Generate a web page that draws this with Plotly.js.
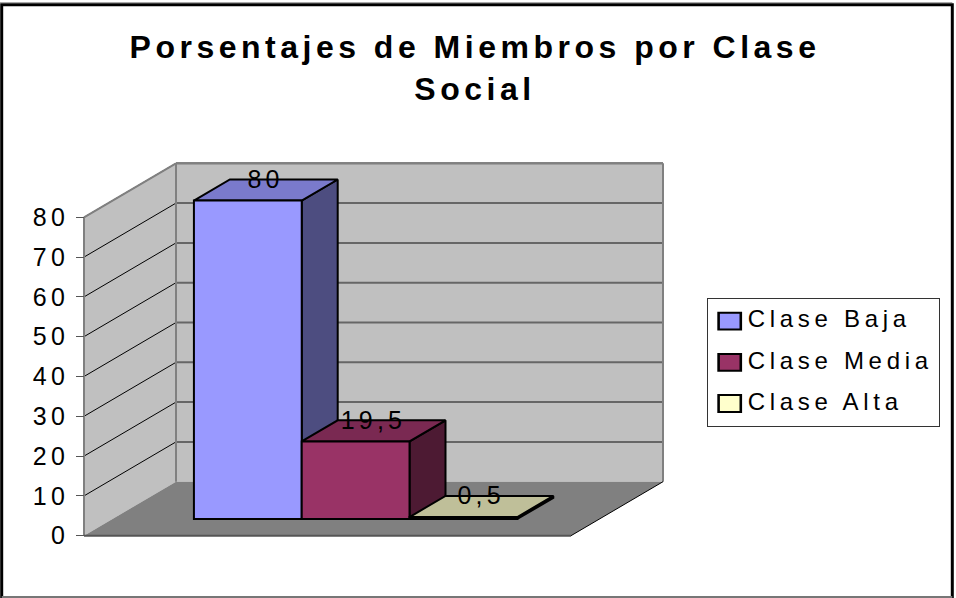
<!DOCTYPE html>
<html><head><meta charset="utf-8">
<script src="https://cdn.plot.ly/plotly-3.0.1.min.js"></script>
<style>
html,body{margin:0;padding:0;background:#fff}
#c{width:956px;height:598px}
.ytick text{letter-spacing:4.2px}
.legendtext{letter-spacing:4.7px;transform:translateY(-3px)}
.gtitle{letter-spacing:4.5px}
.scatterlayer text{letter-spacing:4.2px}
.legendpoints path{transform:translate(22px,0) scale(1.85,1.4) !important;stroke-width:1.4px !important}
</style></head><body><div id="c"></div>
<script>
// data
const categories = ['Clase Baja','Clase Media','Clase Alta'];
const values = [80, 19.5, 0.5];
const frontColors = ['#9999FF','#993366','#FFFFCC'];
const topColors = ['#7A7ACC','#7A2952','#BFBF99'];
const sideColors = ['#4D4D80','#4D1A33','#808066'];
const tickValues = [0,10,20,30,40,50,60,70,80];

// oblique projection of the chart's box
const W=956,H=598,pxU=107.8,pxV=3.98,x0=84,y0=535.7;
const DX=92/pxU, DY=54/pxV, FW=487/pxU, TOP=80;
const D0=0.309, D1=0.70, U0=0.756;
const P=(u,v,d)=>[u+d*DX, v+d*DY];
function poly(pts,fill,lineColor,lineWidth){
  const p=pts.map(a=>P(a[0],a[1],a[2]));
  p.push(p[0]);
  return {type:'scatter',mode:lineWidth?'lines':'none',x:p.map(a=>a[0]),y:p.map(a=>a[1]),fill:'toself',fillcolor:fill,
    line:{color:lineColor||fill,width:lineWidth||0},showlegend:false,hoverinfo:'skip'};
}
function seg(list,color,width){
  const x=[],y=[];
  list.forEach(s=>{const a=P(...s[0]),b=P(...s[1]);x.push(a[0],b[0],null);y.push(a[1],b[1],null);});
  return {type:'scatter',mode:'lines',x,y,line:{color,width},showlegend:false,hoverinfo:'skip'};
}
const traces=[];
traces.push(poly([[0,0,0],[0,TOP,0],[0,TOP,1],[0,0,1]],'#C0C0C0'));
traces.push(poly([[0,0,1],[0,TOP,1],[FW,TOP,1],[FW,0,1]],'#C0C0C0'));
const grid=tickValues.slice(1);
traces.push(seg(grid.map(v=>[[0,v,1],[FW,v,1]]),'#666666',2));
traces.push(seg(grid.slice(0).map(v=>[[0,v,0],[0,v,1]]),'#000000',1));
traces.push(seg([[[0,0,0],[0,TOP,0]],[[0,TOP,0],[0,TOP,1]],[[0,TOP,1],[FW,TOP,1]],[[0,0,1],[0,TOP,1]],[[FW,0,1],[FW,TOP,1]]],'#808080',2));
traces.push(poly([[0,0,0],[FW,0,0],[FW,0,1],[0,0,1]],'#808080'));
traces.push(seg([[[0,0,0],[FW,0,0]]],'#555555',2));
traces.push(seg([[[FW,0,0],[FW,0,1]]],'#000000',1));
values.forEach((v,i)=>{
  const a=U0+i,b=U0+i+1;
  traces.push(poly([[b,0,D0],[b,v,D0],[b,v,D1],[b,0,D1]],sideColors[i],'#000',2));
  traces.push(poly([[a,v,D0],[b,v,D0],[b,v,D1],[a,v,D1]],topColors[i],'#000',2));
});
// front faces: real bars on an overlaid pair of axes
values.forEach((v,i)=>{
  traces.push({type:'bar',xaxis:'x2',yaxis:'y2',name:categories[i],legendgroup:categories[i],
    x:[U0+i+0.5+D0*DX],y:[v],base:[D0*DY],width:[1],
    marker:{color:frontColors[i],line:{color:'#000',width:2}},hoverinfo:'skip'});
});
// data labels
traces.push({type:'scatter',mode:'text',xaxis:'x2',yaxis:'y2',showlegend:false,hoverinfo:'skip',
  x:values.map((v,i)=>U0+i+0.5+D0*DX+0.165),
  y:values.map(v=>v+D1*DY-0.5),
  text:values.map(v=>String(v).replace('.',',')),
  textposition:'middle center',
  textfont:{family:'Liberation Sans',size:25,color:'#000'}});

const xr=[-x0/pxU,(W-x0)/pxU], yr=[(y0-H)/pxV,y0/pxV];
const layout={
  width:W,height:H,margin:{l:0,r:0,t:0,b:0,pad:0},paper_bgcolor:'#fff',plot_bgcolor:'rgba(0,0,0,0)',
  font:{family:'Liberation Sans',color:'#000'},
  showlegend:true,barmode:'overlay',
  title:{text:'Porsentajes de Miembros por Clase<br>Social',x:475/W,xanchor:'center',y:1-58/H,yanchor:'middle',
    font:{family:'Liberation Sans',size:32,color:'#000',weight:700}},
  xaxis:{range:xr,visible:false,fixedrange:true},
  yaxis:{range:yr,anchor:'free',position:x0/W,showgrid:false,zeroline:false,showline:false,
    tickmode:'array',tickvals:tickValues,ticktext:tickValues.map(String),ticks:'outside',ticklen:8,tickwidth:1,tickcolor:'#555',
    tickfont:{family:'Liberation Sans',size:25,color:'#000'},ticklabelstandoff:2,fixedrange:true},
  xaxis2:{range:xr,overlaying:'x',visible:false,fixedrange:true},
  yaxis2:{range:yr,overlaying:'y',visible:false,fixedrange:true},
  legend:{x:706.7/W,y:1-298/H,xanchor:'left',yanchor:'top',bgcolor:'#fff',bordercolor:'#333',borderwidth:1,
    font:{family:'Liberation Sans',size:24,color:'#000'},itemwidth:30,traceorder:'grouped',tracegroupgap:7,
    entrywidth:202,entrywidthmode:'pixels'},
  shapes:[
    {type:'path',xref:'paper',yref:'paper',path:`M ${1.7/W} 0 L ${1.7/W} ${1-4.7/H} L ${952.3/W} ${1-4.7/H} L ${952.3/W} 0`,line:{color:'#000',width:3},layer:'below'},
    {type:'line',xref:'paper',yref:'paper',x0:1.7/W,x1:952.3/W,y0:1-597/H,y1:1-597/H,line:{color:'#777',width:2},layer:'below'},
    {type:'line',xref:'paper',yref:'paper',x0:0,x1:952.3/W,y0:1-2.5/H,y1:1-2.5/H,line:{color:'#aaa',width:1},layer:'below'}
  ]
};
Plotly.newPlot('c',traces,layout,{displayModeBar:false,staticPlot:true});
</script></body></html>
